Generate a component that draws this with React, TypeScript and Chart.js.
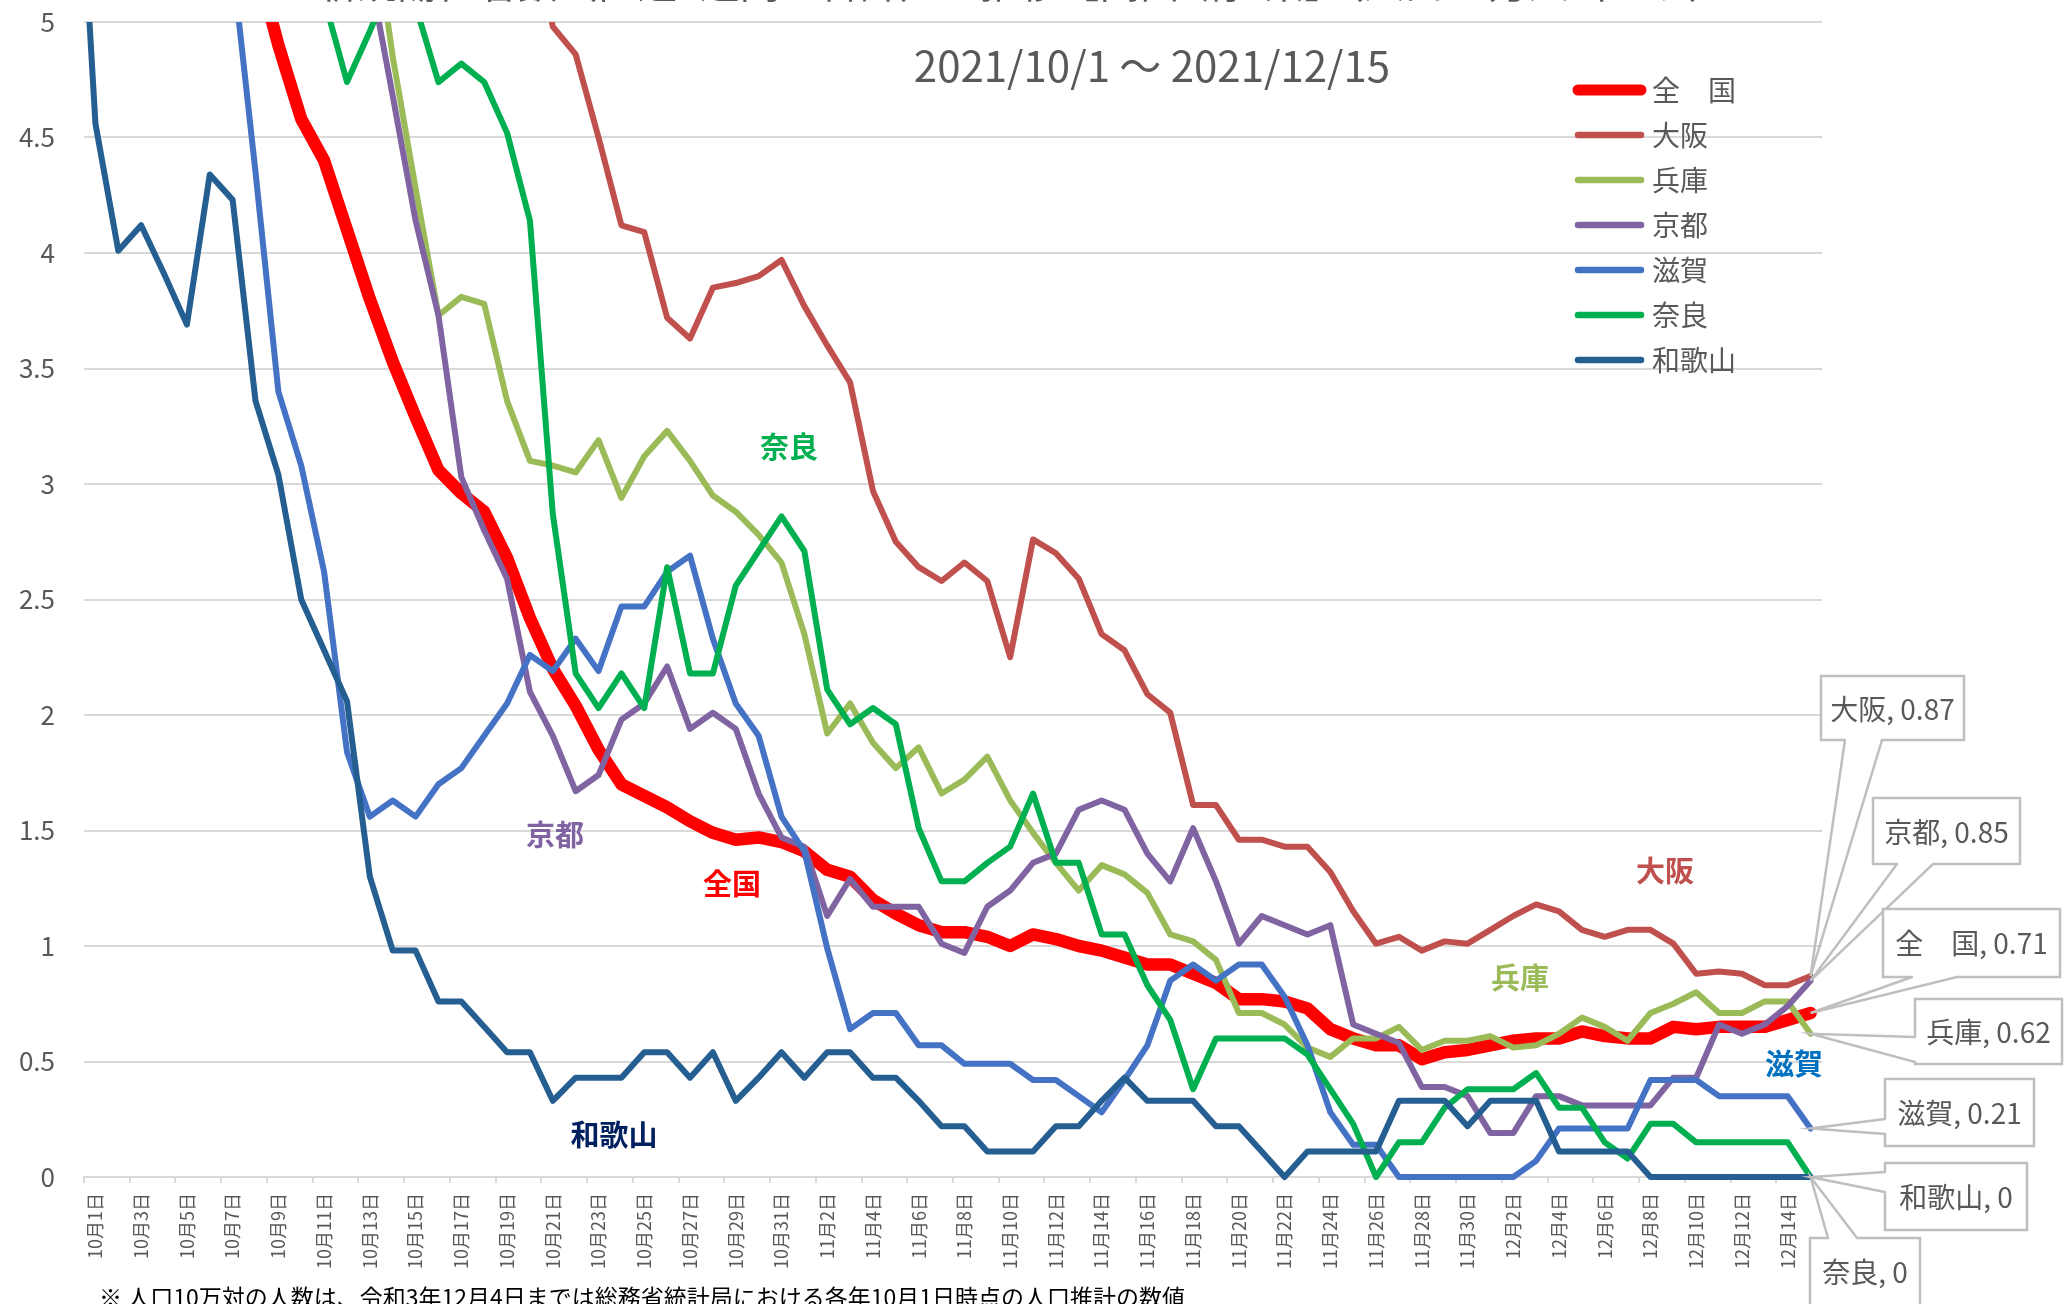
import React, { useEffect, useRef } from 'react';
import { Chart, registerables } from 'chart.js';

Chart.register(...registerables);

const dates = [
  '10月1日','10月2日','10月3日','10月4日','10月5日','10月6日','10月7日','10月8日','10月9日','10月10日',
  '10月11日','10月12日','10月13日','10月14日','10月15日','10月16日','10月17日','10月18日','10月19日','10月20日',
  '10月21日','10月22日','10月23日','10月24日','10月25日','10月26日','10月27日','10月28日','10月29日','10月30日',
  '10月31日','11月1日','11月2日','11月3日','11月4日','11月5日','11月6日','11月7日','11月8日','11月9日',
  '11月10日','11月11日','11月12日','11月13日','11月14日','11月15日','11月16日','11月17日','11月18日','11月19日',
  '11月20日','11月21日','11月22日','11月23日','11月24日','11月25日','11月26日','11月27日','11月28日','11月29日',
  '11月30日','12月1日','12月2日','12月3日','12月4日','12月5日','12月6日','12月7日','12月8日','12月9日',
  '12月10日','12月11日','12月12日','12月13日','12月14日','12月15日',
];

const zenkoku = [
  9.0, 8.5, 8.0, 7.4, 6.8, 6.3, 5.8, 5.27, 4.9, 4.58,
  4.40, 4.10, 3.80, 3.53, 3.29, 3.06, 2.96, 2.88, 2.68, 2.42,
  2.20, 2.04, 1.85, 1.70, 1.65, 1.60, 1.54, 1.49, 1.46, 1.47,
  1.45, 1.41, 1.33, 1.30, 1.20, 1.14, 1.09, 1.06, 1.06, 1.04,
  1.00, 1.05, 1.03, 1.00, 0.98, 0.95, 0.92, 0.92, 0.88, 0.84,
  0.77, 0.77, 0.76, 0.73, 0.64, 0.60, 0.57, 0.57, 0.51, 0.54,
  0.55, 0.57, 0.59, 0.60, 0.60, 0.63, 0.61, 0.60, 0.60, 0.65,
  0.64, 0.65, 0.65, 0.65, 0.68, 0.71,
];

const osaka = [
  19.5, 18.4, 17.2, 16.0, 15.1, 14.2, 13.4, 12.5, 11.7, 10.9,
  10.2, 9.5, 8.8, 8.2, 7.7, 7.1, 6.6, 6.2, 5.9, 5.5,
  4.98, 4.86, 4.50, 4.12, 4.09, 3.72, 3.63, 3.85, 3.87, 3.90,
  3.97, 3.77, 3.60, 3.44, 2.97, 2.75, 2.64, 2.58, 2.66, 2.58,
  2.25, 2.76, 2.70, 2.59, 2.35, 2.28, 2.09, 2.01, 1.61, 1.61,
  1.46, 1.46, 1.43, 1.43, 1.32, 1.15, 1.01, 1.04, 0.98, 1.02,
  1.01, 1.07, 1.13, 1.18, 1.15, 1.07, 1.04, 1.07, 1.07, 1.01,
  0.88, 0.89, 0.88, 0.83, 0.83, 0.87,
];

const hyogo = [
  13.5, 12.6, 11.8, 11.0, 10.3, 9.6, 8.9, 8.3, 7.7, 7.1,
  6.6, 6.1, 5.55, 4.85, 4.28, 3.73, 3.81, 3.78, 3.36, 3.10,
  3.08, 3.05, 3.19, 2.94, 3.12, 3.23, 3.10, 2.95, 2.88, 2.78,
  2.66, 2.35, 1.92, 2.05, 1.88, 1.77, 1.86, 1.66, 1.72, 1.82,
  1.63, 1.49, 1.36, 1.24, 1.35, 1.31, 1.23, 1.05, 1.02, 0.94,
  0.71, 0.71, 0.66, 0.56, 0.52, 0.60, 0.60, 0.65, 0.55, 0.59,
  0.59, 0.61, 0.56, 0.57, 0.62, 0.69, 0.65, 0.59, 0.71, 0.75,
  0.80, 0.71, 0.71, 0.76, 0.76, 0.62,
];

const kyoto = [
  12.5, 11.6, 10.8, 10.0, 9.3, 8.6, 8.0, 7.4, 6.8, 6.3,
  5.9, 5.5, 5.21, 4.68, 4.14, 3.73, 3.03, 2.80, 2.59, 2.10,
  1.91, 1.67, 1.74, 1.98, 2.05, 2.21, 1.94, 2.01, 1.94, 1.66,
  1.47, 1.43, 1.13, 1.29, 1.17, 1.17, 1.17, 1.01, 0.97, 1.17,
  1.24, 1.36, 1.40, 1.59, 1.63, 1.59, 1.40, 1.28, 1.51, 1.28,
  1.01, 1.13, 1.09, 1.05, 1.09, 0.66, 0.62, 0.58, 0.39, 0.39,
  0.35, 0.19, 0.19, 0.35, 0.35, 0.31, 0.31, 0.31, 0.31, 0.43,
  0.43, 0.66, 0.62, 0.66, 0.74, 0.85,
];

const shiga = [
  9.0, 8.3, 7.6, 7.0, 6.4, 5.8, 5.25, 4.35, 3.40, 3.08,
  2.62, 1.84, 1.56, 1.63, 1.56, 1.70, 1.77, 1.91, 2.05, 2.26,
  2.19, 2.33, 2.19, 2.47, 2.47, 2.62, 2.69, 2.33, 2.05, 1.91,
  1.56, 1.41, 0.99, 0.64, 0.71, 0.71, 0.57, 0.57, 0.49, 0.49,
  0.49, 0.42, 0.42, 0.35, 0.28, 0.42, 0.57, 0.85, 0.92, 0.85,
  0.92, 0.92, 0.78, 0.57, 0.28, 0.14, 0.14, 0, 0, 0,
  0, 0, 0, 0.07, 0.21, 0.21, 0.21, 0.21, 0.42, 0.42,
  0.42, 0.35, 0.35, 0.35, 0.35, 0.21,
];

const nara = [
  11.0, 10.3, 9.6, 9.0, 8.3, 7.6, 7.0, 6.4, 5.9, 5.5,
  5.10, 4.74, 4.96, 5.2, 5.07, 4.74, 4.82, 4.74, 4.52, 4.14,
  2.87, 2.18, 2.03, 2.18, 2.03, 2.64, 2.18, 2.18, 2.56, 2.71,
  2.86, 2.71, 2.11, 1.96, 2.03, 1.96, 1.51, 1.28, 1.28, 1.36,
  1.43, 1.66, 1.36, 1.36, 1.05, 1.05, 0.83, 0.68, 0.38, 0.60,
  0.60, 0.60, 0.60, 0.53, 0.38, 0.23, 0, 0.15, 0.15, 0.30,
  0.38, 0.38, 0.38, 0.45, 0.30, 0.30, 0.15, 0.08, 0.23, 0.23,
  0.15, 0.15, 0.15, 0.15, 0.15, 0,
];

const wakayama = [
  4.56, 4.01, 4.12, 3.91, 3.69, 4.34, 4.23, 3.36, 3.04, 2.50,
  2.28, 2.06, 1.30, 0.98, 0.98, 0.76, 0.76, 0.65, 0.54, 0.54,
  0.33, 0.43, 0.43, 0.43, 0.54, 0.54, 0.43, 0.54, 0.33, 0.43,
  0.54, 0.43, 0.54, 0.54, 0.43, 0.43, 0.33, 0.22, 0.22, 0.11,
  0.11, 0.11, 0.22, 0.22, 0.33, 0.43, 0.33, 0.33, 0.33, 0.22,
  0.22, 0.11, 0, 0.11, 0.11, 0.11, 0.11, 0.33, 0.33, 0.33,
  0.22, 0.33, 0.33, 0.33, 0.11, 0.11, 0.11, 0.11, 0, 0,
  0, 0, 0, 0, 0, 0,
];

// 和歌山 value of the day before the window (9/30), only its clipped tail is visible
const wakayamaPrevDay = 6.25;

const seriesNames = ['全　国', '大阪', '兵庫', '京都', '滋賀', '奈良', '和歌山'];
const seriesData = [zenkoku, osaka, hyogo, kyoto, shiga, nara, wakayama];
const seriesColors = ['#ff0000', '#c0504d', '#9bbb59', '#8064a2', '#4472c4', '#00b050', '#255e91'];

const titleText = '新規陽性者数（直近1週間の合計）の推移【関西2府4県】（人口10万人当たり）';
const subtitleText = '2021/10/1 ～ 2021/12/15';
const footnoteText = '※ 人口10万対の人数は、令和3年12月4日までは総務省統計局における各年10月1日時点の人口推計の数値';

const annotationNames = ['奈良', '京都', '全国', '和歌山', '大阪', '兵庫', '滋賀'];
const annotationColors = ['#00b050', '#8064a2', '#ff0000', '#002060', '#c0504d', '#9bbb59', '#0070c0'];
const annotationPos = [
  [789, 447], [555, 835], [732, 884], [614, 1135], [1665, 871], [1520, 978], [1794, 1064],
];

const FONT = '"Noto Sans CJK JP", "Noto Sans", sans-serif';
const GRAY = '#595959';

// callout layout: series index, box [x,y,w,h], wedge edge and base coordinates
const callouts: { s: number; box: number[]; edge: string; a: number; b: number }[] = [
  { s: 1, box: [1821, 676, 143, 64], edge: 'bottom', a: 1845, b: 1882 },
  { s: 3, box: [1873, 798, 147, 66], edge: 'bottom', a: 1897, b: 1933 },
  { s: 0, box: [1883, 909, 177, 68], edge: 'bottom', a: 1912, b: 1957 },
  { s: 2, box: [1915, 999, 147, 65], edge: 'left', a: 1037, b: 1062 },
  { s: 4, box: [1885, 1079, 149, 67], edge: 'left', a: 1119, b: 1134 },
  { s: 6, box: [1885, 1163, 142, 67], edge: 'left', a: 1172, b: 1192 },
  { s: 5, box: [1810, 1238, 110, 80], edge: 'top', a: 1828, b: 1857 },
];

const overlayPlugin = {
  id: 'overlay',
  afterDraw(chart: any) {
    const ctx = chart.ctx as CanvasRenderingContext2D;
    const xs = chart.scales.x;
    const ys = chart.scales.y;
    ctx.save();

    // cropped title
    ctx.fillStyle = GRAY;
    ctx.font = `40px ${FONT}`;
    ctx.textAlign = 'center';
    ctx.textBaseline = 'alphabetic';
    ctx.fillText(titleText, 1023, -2);

    // subtitle
    ctx.font = `42px ${FONT}`;
    ctx.textBaseline = 'middle';
    ctx.fillText(subtitleText, 1152, 66);

    // legend
    ctx.lineCap = 'round';
    for (let i = 0; i < seriesNames.length; i++) {
      const y = 90 + 45 * i;
      ctx.strokeStyle = seriesColors[i];
      ctx.lineWidth = i === 0 ? 11 : 6.5;
      ctx.beginPath();
      ctx.moveTo(1578, y);
      ctx.lineTo(1641, y);
      ctx.stroke();
      ctx.fillStyle = GRAY;
      ctx.font = `28px ${FONT}`;
      ctx.textAlign = 'left';
      ctx.textBaseline = 'middle';
      ctx.fillText(seriesNames[i], 1652, y);
    }

    // in-chart annotations
    ctx.font = `bold 29px ${FONT}`;
    ctx.textAlign = 'center';
    ctx.textBaseline = 'middle';
    for (let i = 0; i < annotationNames.length; i++) {
      ctx.fillStyle = annotationColors[i];
      ctx.fillText(annotationNames[i], annotationPos[i][0], annotationPos[i][1]);
    }

    // callouts
    const last = dates.length - 1;
    for (const c of callouts) {
      const [x, y, w, h] = c.box;
      const data = seriesData[c.s];
      const v = data[last];
      const tx = xs.getPixelForValue(last);
      const ty = ys.getPixelForValue(v);
      ctx.fillStyle = '#ffffff';
      ctx.fillRect(x, y, w, h);
      ctx.strokeStyle = '#bfbfbf';
      ctx.lineWidth = 2.5;
      ctx.lineJoin = 'miter';
      ctx.beginPath();
      if (c.edge === 'bottom') {
        ctx.moveTo(c.a, y + h);
        ctx.lineTo(x, y + h);
        ctx.lineTo(x, y);
        ctx.lineTo(x + w, y);
        ctx.lineTo(x + w, y + h);
        ctx.lineTo(c.b, y + h);
        ctx.lineTo(tx, ty);
        ctx.lineTo(c.a, y + h);
      } else if (c.edge === 'left') {
        ctx.moveTo(x, c.a);
        ctx.lineTo(x, y);
        ctx.lineTo(x + w, y);
        ctx.lineTo(x + w, y + h);
        ctx.lineTo(x, y + h);
        ctx.lineTo(x, c.b);
        ctx.lineTo(tx, ty);
        ctx.lineTo(x, c.a);
      } else {
        ctx.moveTo(c.a, y);
        ctx.lineTo(x, y);
        ctx.lineTo(x, y + h);
        ctx.lineTo(x + w, y + h);
        ctx.lineTo(x + w, y);
        ctx.lineTo(c.b, y);
        ctx.lineTo(tx, ty);
        ctx.lineTo(c.a, y);
      }
      ctx.stroke();
      ctx.fillStyle = GRAY;
      ctx.font = `28px ${FONT}`;
      ctx.textAlign = 'center';
      ctx.textBaseline = 'middle';
      ctx.fillText(`${seriesNames[c.s]}, ${v}`, x + w / 2, y + Math.min(h, 66) / 2 + 1);
    }

    // footnote (cropped)
    ctx.fillStyle = '#000000';
    ctx.font = `23px ${FONT}`;
    ctx.textAlign = 'left';
    ctx.textBaseline = 'top';
    ctx.fillText(footnoteText, 99, 1286);

    ctx.restore();
  },
};

export default function App() {
  const ref = useRef<HTMLCanvasElement>(null);

  useEffect(() => {
    document.body.style.margin = '0';
    const canvas = ref.current!;
    const clip = { left: 0, top: 0, right: 10, bottom: 10 };
    const datasets: any[] = seriesData.map((d, i) => {
      const isWakayama = i === seriesData.length - 1;
      return {
        label: seriesNames[i],
        data: isWakayama
          ? [{ x: -1, y: wakayamaPrevDay }, ...d.map((v, k) => ({ x: k, y: v }))]
          : d,
        xAxisID: isWakayama ? 'x2' : 'x',
        borderColor: seriesColors[i],
        backgroundColor: seriesColors[i],
        borderWidth: i === 0 ? 12.5 : 6,
        pointRadius: 0,
        pointHoverRadius: 0,
        tension: 0,
        fill: false,
        borderJoinStyle: 'round',
        borderCapStyle: 'round',
        order: seriesData.length - i,
        clip,
      };
    });
    const chart = new Chart(canvas, {
      type: 'line',
      data: { labels: dates, datasets },
      options: {
        responsive: false,
        animation: false,
        events: [],
        layout: { padding: { left: 0, right: 247, top: 22, bottom: 0 } },
        plugins: {
          legend: { display: false },
          tooltip: { enabled: false },
          title: { display: false },
        },
        scales: {
          x: {
            type: 'category',
            offset: true,
            grid: {
              offset: true,
              drawOnChartArea: false,
              drawTicks: true,
              tickLength: 6,
              lineWidth: 2,
              color: (ctx: any) => (ctx.index % 2 === 0 ? '#d9d9d9' : 'rgba(0,0,0,0)'),
            },
            border: { display: true, color: '#d9d9d9', width: 2 },
            ticks: {
              autoSkip: false,
              maxRotation: 90,
              minRotation: 90,
              padding: 10,
              color: GRAY,
              font: { family: FONT, size: 18 },
              callback: (_v: any, idx: number) => (idx % 2 === 0 ? dates[idx] : ''),
            },
            afterFit: (scale: any) => {
              scale.height = 127;
              scale.paddingLeft = 0;
              scale.paddingRight = 0;
            },
          },
          x2: {
            type: 'linear',
            display: false,
            min: -0.5,
            max: dates.length - 0.5,
            offset: false,
          },
          y: {
            min: 0,
            max: 5,
            ticks: {
              stepSize: 0.5,
              padding: 29,
              color: GRAY,
              font: { family: FONT, size: 26 },
              callback: (v: any) => String(Math.round(Number(v) * 10) / 10),
            },
            grid: {
              color: '#d9d9d9',
              lineWidth: 2,
              drawTicks: false,
            },
            border: { display: false },
            afterFit: (scale: any) => {
              scale.width = 84;
              scale.paddingTop = 0;
              scale.paddingBottom = 0;
            },
          },
        },
      },
      plugins: [overlayPlugin],
    });
    return () => chart.destroy();
  }, []);

  return (
    <div style={{ position: 'absolute', left: 0, top: 0, width: 2069, height: 1304, background: '#ffffff', overflow: 'hidden' }}>
      <canvas ref={ref} width={2069} height={1304} style={{ display: 'block', width: 2069, height: 1304 }} />
    </div>
  );
}
